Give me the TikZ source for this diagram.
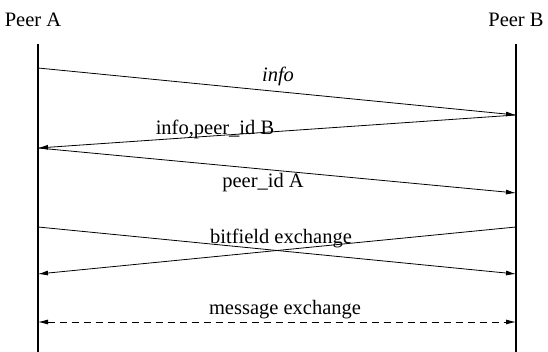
\documentclass[tikz,border=0pt]{standalone}
\usepackage{fontspec}
\setmainfont{Liberation Serif}
\usetikzlibrary{arrows.meta}
\begin{document}
\begin{tikzpicture}[x=1pt,y=-1pt,
  lifeline/.style={line width=1.8pt},
  msg/.style={line width=0.8pt,-{Latex[length=10pt,width=5pt]}},
  both/.style={line width=0.8pt,{Latex[length=10pt,width=5pt]}-{Latex[length=10pt,width=5pt]}},
  lbl/.style={font=\fontsize{20.5}{23}\selectfont,inner sep=0pt}]
\useasboundingbox (0,0) rectangle (548,352);
% peers and lifelines
\node[lbl] (pa) at (33,20) {Peer A};
\node[lbl] (pb) at (516,20) {Peer B};
\coordinate (a0) at (38,44);
\coordinate (a1) at (38,352);
\coordinate (b0) at (516,44);
\coordinate (b1) at (516,352);
\draw[lifeline] (a0) -- (a1);
\draw[lifeline,line width=1.3pt] (b0) -- (b1);
% message end points
\coordinate (m1s) at (38,68);   \coordinate (m1e) at (516,115);
\coordinate (m2s) at (516,115); \coordinate (m2e) at (38,148);
\coordinate (m3s) at (38,148);  \coordinate (m3e) at (516,193);
\coordinate (m4s) at (38,227);  \coordinate (m4e) at (516,274);
\coordinate (m5s) at (516,227); \coordinate (m5e) at (38,274);
\coordinate (m6s) at (38,322);  \coordinate (m6e) at (516,322);
% messages
\draw[msg] (m1s) -- (m1e);
\draw[msg] (m2s) -- (m2e);
\draw[msg] (m3s) -- (m3e);
\draw[msg] (m4s) -- (m4e);
\draw[msg] (m5s) -- (m5e);
\draw[both,dashed,dash pattern=on 7pt off 5pt] (m6s) -- (m6e);
% labels
\node[lbl] (l1) at (278,76) {\itshape info};
\node[lbl] (l2) at (215,129) {info,peer\_id B};
\node[lbl] (l3) at (263,183) {peer\_id A};
\node[lbl] (l4) at (281,238) {bitfield exchange};
\node[lbl] (l6) at (285,310) {message exchange};
\end{tikzpicture}
\end{document}
